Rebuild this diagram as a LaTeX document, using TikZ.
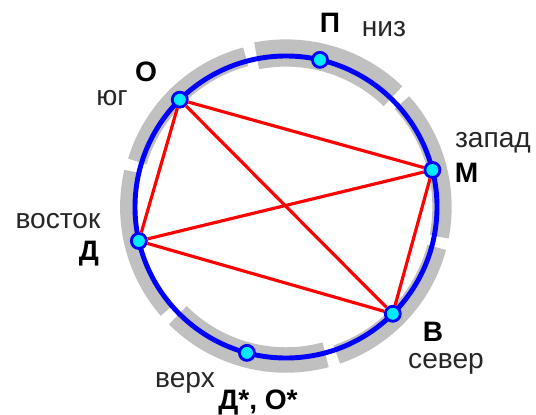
\documentclass[tikz,border=0pt]{standalone}
\usepackage{fontspec}
\setmainfont{Liberation Sans}
\definecolor{rimgray}{RGB}{192,192,192}
\definecolor{spotcyan}{RGB}{0,235,255}
\begin{document}
\begin{tikzpicture}[every node/.style={inner sep=0pt},
    spot/.style={circle,draw=blue,fill=spotcyan,line width=1.6pt,minimum size=0.30cm},
    letter/.style={font=\fontsize{16}{18}\selectfont\bfseries,anchor=base},
    side/.style={font=\fontsize{16}{18}\selectfont,anchor=base,text=black!85},
    chord/.style={red,line width=1.8pt}]
    \useasboundingbox (0,0) rectangle (10.72,8.28);

    \begin{scope}[shift={(5.72,4.14)}]
        % grey rim in six pieces: start/end angle, extra radius, width
        \foreach \a/\b/\o/\w in {46/101/0.06/15.5, 105/163/0.09/11, 167/221/0.14/9,
                                 225/285/0.04/14.5, 289/345/0.10/11, 349/402/0.10/11}
            \draw[rimgray,line width=\w pt] (\a:{3.02+\o}) arc[start angle=\a,end angle=\b,radius={3.02+\o}];
        \draw[blue,line width=2.8pt] (0,0) circle[radius=3.02];

        \node[spot] (o) at (134.7:3.02) {};
        \node[spot] (p) at (77:3.02) {};
        \node[spot] (m) at (14.2:3.02) {};
        \node[spot] (d) at (193:3.02) {};
        \node[spot] (v) at (-45:3.02) {};
        \node[spot] (b) at (255:3.02) {};
    \end{scope}

    \draw[chord] (o)--(m);
    \draw[chord] (o)--(v);
    \draw[chord] (o)--(d);
    \draw[chord] (d)--(m);
    \draw[chord] (d)--(v);
    \draw[chord] (m)--(v);

    \node[letter] (lp) at (6.60,7.62) {П};
    \node[side] (lniz) at (7.68,7.54) {низ};
    \node[letter] (lo) at (2.92,6.64) {О};
    \node[side] (lyug) at (2.24,6.18) {юг};
    \node[side] (lzap) at (9.86,5.34) {запад};
    \node[letter] (lm) at (9.33,4.64) {М};
    \node[side] (lvos) at (1.16,3.72) {восток};
    \node[letter] (ld) at (1.78,3.08) {Д};
    \node[letter] (lv) at (8.66,1.46) {В};
    \node[side] (lsev) at (8.92,0.92) {север};
    \node[side] (lverh) at (3.70,0.54) {верх};
    \node[letter] (ldo) at (5.16,0.10) {Д*, О*};
\end{tikzpicture}
\end{document}
